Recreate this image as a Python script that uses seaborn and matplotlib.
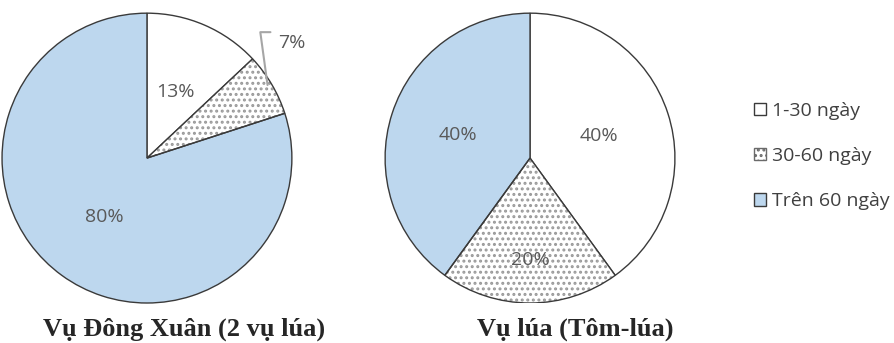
import matplotlib.pyplot as plt
import seaborn as sns
from matplotlib.patches import Patch, Wedge
import numpy as np

categories = ["1-30 ngày", "30-60 ngày", "Trên 60 ngày"]
dong_xuan = [13, 7, 80]
tom_lua = [40, 20, 40]
titles = ["Vụ Đông Xuân (2 vụ lúa)", "Vụ lúa (Tôm-lúa)"]

colors = ["white", "white", "#BDD7EE"]
hatches = [None, "...", None]
edge = "#3a3a3a"
label_color = "#595959"

sns.set_theme(style="white")
plt.rcParams["font.family"] = ["Open Sans", "DejaVu Sans"]
plt.rcParams["hatch.linewidth"] = 1.4

fig = plt.figure(figsize=(8.95, 3.43), dpi=100)
ax1 = fig.add_axes([0.0022, 0.1166, 0.324, 0.845])
ax2 = fig.add_axes([0.4302, 0.1166, 0.324, 0.845])

# label distance from centre as fraction of radius, per slice (None = outside)
label_dist = [[0.5, None, 0.5], [0.5, 0.7, 0.52]]


def draw_pie(ax, values, dists):
    wedges, _ = ax.pie(values, colors=colors, startangle=90, counterclock=False,
                       radius=1.0,
                       wedgeprops=dict(edgecolor=edge, linewidth=1.0))
    for w, h, v, d in zip(wedges, hatches, values, dists):
        if h:
            w.set_hatch(h)
            w.set_edgecolor("#999999")
            w.set_linewidth(0)
            ax.add_patch(Wedge(w.center, w.r, w.theta1, w.theta2, fill=False,
                               edgecolor=edge, linewidth=1.0))
        mid = np.deg2rad((w.theta1 + w.theta2) / 2)
        if d is not None:
            ax.text(d * np.cos(mid), d * np.sin(mid), f"{v}%", ha="center",
                    va="center", fontsize=14, color=label_color)
        else:
            # callout label with leader line
            x0, y0 = 0.99 * np.cos(mid), 0.99 * np.sin(mid)
            ax.plot([x0 - 0.02, x0 - 0.07, x0 - 0.0], [y0, y0 + 0.365, y0 + 0.365],
                    color="#a6a6a6", lw=1.5, clip_on=False)
            ax.text(x0 + 0.05, y0 + 0.29, f"{v}%", ha="left", va="center",
                    fontsize=14, color=label_color)
    ax.set_xlim(-1, 1)
    ax.set_ylim(-1, 1)
    ax.set_aspect("equal")
    ax.axis("off")


draw_pie(ax1, dong_xuan, label_dist[0])
draw_pie(ax2, tom_lua, label_dist[1])

fig.text(184 / 895, 1 - 329 / 343, titles[0], ha="center", va="center",
         fontsize=19, fontweight="bold", family="Liberation Serif")
fig.text(575 / 895, 1 - 329 / 343, titles[1], ha="center", va="center",
         fontsize=19, fontweight="bold", family="Liberation Serif")

handles = [Patch(facecolor=c, edgecolor=edge if not h else "#6a6a6a", hatch=h,
                 linewidth=1.0) for c, h in zip(colors, hatches)]
fig.legend(handles, categories, loc="center left",
           bbox_to_anchor=(737 / 895, 1 - 156 / 343), frameon=False,
           fontsize=14, handlelength=0.6, handleheight=0.6, handletextpad=0.3,
           labelspacing=1.4, labelcolor="#404040")

fig.savefig("out.png", dpi=100)
